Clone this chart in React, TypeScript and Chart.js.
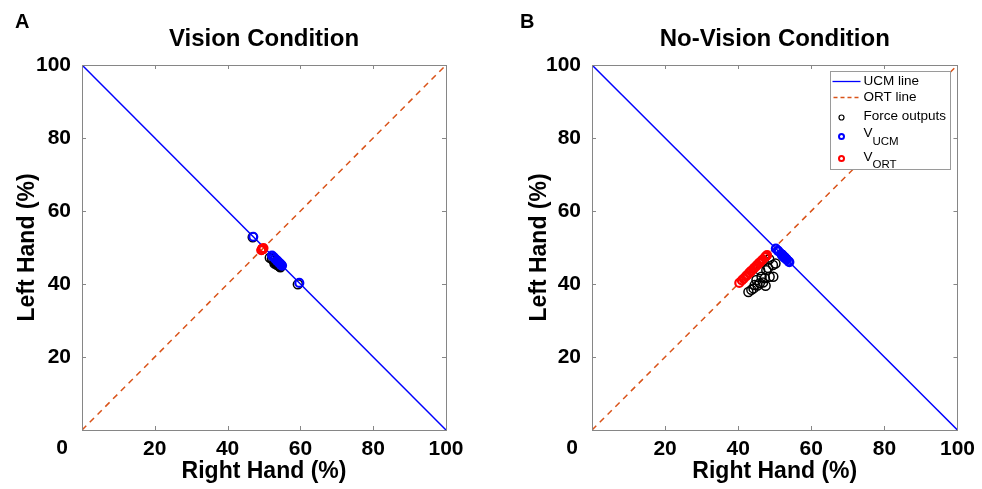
import { useEffect, useRef } from 'react';
import { Chart, registerables } from 'chart.js';
Chart.register(...registerables);

const FONT = '"Liberation Sans", Arial, Helvetica, sans-serif';

const tickValues = [0, 20, 40, 60, 80, 100];
const ucmLineX = [0, 100];
const ucmLineY = [100, 0];
const ortLineX = [0, 100];
const ortLineY = [0, 100];

const legendLabels = ['UCM line', 'ORT line', 'Force outputs', 'V', 'V'];
const legendSubs = ['', '', '', 'UCM', 'ORT'];

// Panel A: Vision Condition
const visionForceX = [52.6, 53.1, 53.4, 53.8, 54.1, 54.5, 52.9, 53.6, 54.3, 59.3, 46.9, 51.6, 52.2];
const visionForceY = [46.4, 45.9, 45.6, 45.3, 45.0, 44.6, 45.6, 45.2, 44.8, 39.9, 52.8, 47.2, 46.9];
const visionUcmX = [53.1, 53.6, 53.9, 54.25, 54.55, 54.95, 53.65, 54.2, 54.75, 59.7, 47.05, 52.2, 52.65];
const visionUcmY = [46.9, 46.4, 46.1, 45.75, 45.45, 45.05, 46.35, 45.8, 45.25, 40.3, 52.95, 47.8, 47.35];
const visionOrtX = [49.5, 49.5, 49.5, 49.55, 49.55, 49.55, 49.25, 49.4, 49.55, 49.6, 49.85, 49.4, 49.55];
const visionOrtY = [49.5, 49.5, 49.5, 49.55, 49.55, 49.55, 49.25, 49.4, 49.55, 49.6, 49.85, 49.4, 49.55];

// Panel B: No-Vision Condition
const noVisionForceX = [49.5, 47.7, 48.6, 46.4, 45.0, 44.5, 45.9, 47.3, 50.2, 48.5, 43.6, 44.2, 45.3, 46.8, 46.0, 48.2, 47.0, 47.5, 49.6, 42.8];
const noVisionForceY = [45.2, 43.8, 42.0, 42.0, 41.1, 39.7, 40.2, 41.6, 45.6, 46.8, 38.4, 38.8, 39.6, 40.4, 43.8, 44.4, 46.4, 39.5, 42.0, 37.8];
const noVisionUcmX = [52.15, 51.95, 53.3, 52.2, 51.95, 52.4, 52.85, 52.85, 52.3, 50.85, 52.6, 52.7, 52.85, 53.2, 51.1, 51.9, 50.3, 54.0, 53.8, 52.5];
const noVisionUcmY = [47.85, 48.05, 46.7, 47.8, 48.05, 47.6, 47.15, 47.15, 47.7, 49.15, 47.4, 47.3, 47.15, 46.8, 48.9, 48.1, 49.7, 46.0, 46.2, 47.5];
const noVisionOrtX = [47.35, 45.75, 45.3, 44.2, 43.05, 42.1, 43.05, 44.45, 47.9, 47.65, 41.0, 41.5, 42.45, 43.6, 44.9, 46.3, 46.7, 43.5, 45.8, 40.3];
const noVisionOrtY = [47.35, 45.75, 45.3, 44.2, 43.05, 42.1, 43.05, 44.45, 47.9, 47.65, 41.0, 41.5, 42.45, 43.6, 44.9, 46.3, 46.7, 43.5, 45.8, 40.3];

const BLUE = '#0000FF';
const ORANGE = '#D95319';
const RED = '#FF0000';
const GRAY = '#868686';

function zip(xs: number[], ys: number[]) {
  return xs.map((x, i) => ({ x, y: ys[i] }));
}

type PanelProps = {
  letter: string;
  title: string;
  forceX: number[]; forceY: number[];
  ucmX: number[]; ucmY: number[];
  ortX: number[]; ortY: number[];
  areaLeft: number;
  padRight: number;
  letterX: number;
  yTitleX: number;
  showLegend: boolean;
  left: number;
};

function drawCircle(ctx: CanvasRenderingContext2D, x: number, y: number, r: number, color: string, w: number) {
  ctx.beginPath();
  ctx.arc(x, y, r, 0, Math.PI * 2);
  ctx.strokeStyle = color;
  ctx.lineWidth = w;
  ctx.stroke();
}

function Panel(p: PanelProps) {
  const ref = useRef<HTMLCanvasElement | null>(null);
  useEffect(() => {
    if (!ref.current) return;
    const deco = {
      id: 'deco',
      afterDatasetsDraw(chart: any) {
        const ctx: CanvasRenderingContext2D = chart.ctx;
        const a = chart.chartArea;
        const xs = chart.scales.x;
        const ys = chart.scales.y;
        ctx.save();
        ctx.strokeStyle = GRAY;
        ctx.lineWidth = 1;
        ctx.strokeRect(Math.round(a.left) + 0.5, Math.round(a.top) + 0.5, Math.round(a.right - a.left), Math.round(a.bottom - a.top));
        const tl = 4;
        ctx.beginPath();
        tickValues.forEach((v) => {
          if (v === 0 || v === 100) return;
          const px = Math.round(xs.getPixelForValue(v)) + 0.5;
          const py = Math.round(ys.getPixelForValue(v)) + 0.5;
          ctx.moveTo(px, a.bottom); ctx.lineTo(px, a.bottom - tl);
          ctx.moveTo(px, a.top); ctx.lineTo(px, a.top + tl);
          ctx.moveTo(a.left, py); ctx.lineTo(a.left + tl, py);
          ctx.moveTo(a.right, py); ctx.lineTo(a.right - tl, py);
        });
        ctx.stroke();

        // texts
        ctx.fillStyle = '#000';
        ctx.font = `bold 24px ${FONT}`;
        ctx.textAlign = 'center';
        ctx.textBaseline = 'alphabetic';
        ctx.fillText(p.title, (a.left + a.right) / 2, 46);
        ctx.font = `bold 20px ${FONT}`;
        ctx.textAlign = 'left';
        ctx.fillText(p.letter, p.letterX, 28);
        ctx.font = `bold 23px ${FONT}`;
        ctx.textAlign = 'center';
        ctx.fillText('Right Hand (%)', (a.left + a.right) / 2, 478);
        ctx.save();
        ctx.translate(p.yTitleX, (a.top + a.bottom) / 2);
        ctx.rotate(-Math.PI / 2);
        ctx.textBaseline = 'middle';
        ctx.fillText('Left Hand (%)', 0, 0);
        ctx.restore();
        ctx.font = `bold 21px ${FONT}`;
        ctx.textBaseline = 'middle';
        ctx.fillText('0', a.left - 20, a.bottom + 18);

        if (p.showLegend) {
          const bx = Math.round(a.right) - 126.5;
          const by = Math.round(a.top) + 6.5;
          const bw = 120;
          const bh = 98;
          ctx.fillStyle = '#fff';
          ctx.fillRect(bx, by, bw, bh);
          ctx.strokeStyle = '#9a9a9a';
          ctx.lineWidth = 1;
          ctx.strokeRect(bx, by, bw, bh);
          const tx = bx + 33;
          const mx = bx + 11;
          // line samples
          ctx.lineWidth = 1.3;
          ctx.strokeStyle = BLUE;
          ctx.beginPath(); ctx.moveTo(bx + 2, by + 10); ctx.lineTo(bx + 30, by + 10); ctx.stroke();
          ctx.strokeStyle = ORANGE;
          ctx.setLineDash([4, 3]);
          ctx.beginPath(); ctx.moveTo(bx + 3, by + 26); ctx.lineTo(bx + 30, by + 26); ctx.stroke();
          ctx.setLineDash([]);
          drawCircle(ctx, mx, by + 46, 2.5, '#000', 1.2);
          drawCircle(ctx, mx, by + 65, 2.5, BLUE, 2);
          drawCircle(ctx, mx, by + 87, 2.5, RED, 2);
          ctx.fillStyle = '#000';
          ctx.textAlign = 'left';
          ctx.font = `13.5px ${FONT}`;
          ctx.textBaseline = 'middle';
          ctx.fillText(legendLabels[0], tx, by + 10);
          ctx.fillText(legendLabels[1], tx, by + 26);
          ctx.fillText(legendLabels[2], tx, by + 45);
          ctx.textBaseline = 'alphabetic';
          ctx.fillText(legendLabels[3], tx, by + 65);
          ctx.fillText(legendLabels[4], tx, by + 89);
          const vw = ctx.measureText('V').width;
          ctx.font = `11.5px ${FONT}`;
          ctx.fillText(legendSubs[3], tx + vw, by + 73);
          ctx.fillText(legendSubs[4], tx + vw, by + 96);
        }
        ctx.restore();
      },
    };

    const chart = new Chart(ref.current, {
      type: 'scatter',
      data: {
        datasets: [
          { label: 'UCM line', data: zip(ucmLineX, ucmLineY), showLine: true, borderColor: BLUE, borderWidth: 1.5, pointRadius: 0, order: 5 },
          { label: 'ORT line', data: zip(ortLineX, ortLineY), showLine: true, borderColor: ORANGE, borderWidth: 1.5, borderDash: [6, 5], pointRadius: 0, order: 4 },
          { label: 'Force outputs', data: zip(p.forceX, p.forceY), pointRadius: 4.5, pointBorderWidth: 1.5, borderColor: '#000', backgroundColor: 'rgba(0,0,0,0)', order: 3 },
          { label: 'V_UCM', data: zip(p.ucmX, p.ucmY), pointRadius: 4, pointBorderWidth: 2.2, borderColor: BLUE, backgroundColor: 'rgba(0,0,0,0)', order: 2 },
          { label: 'V_ORT', data: zip(p.ortX, p.ortY), pointRadius: 4, pointBorderWidth: 2.2, borderColor: RED, backgroundColor: 'rgba(0,0,0,0)', order: 1 },
        ],
      },
      options: {
        animation: false,
        responsive: false,
        events: [],
        layout: { padding: { left: 0, right: p.padRight, top: 65, bottom: 0 } },
        plugins: { legend: { display: false }, tooltip: { enabled: false }, title: { display: false } },
        scales: {
          x: {
            type: 'linear', min: 0, max: 100,
            afterBuildTicks: (s: any) => { s.ticks = tickValues.map((v) => ({ value: v })); },
            afterFit: (s: any) => { s.height = 59; },
            grid: { display: false, drawTicks: false },
            border: { display: false },
            ticks: {
              padding: 7, color: '#000', maxRotation: 0,
              font: { family: FONT, size: 21, weight: 'bold' },
              callback: (v: any) => (v === 0 ? '' : String(v)),
            },
          },
          y: {
            type: 'linear', min: 0, max: 100,
            afterBuildTicks: (s: any) => { s.ticks = tickValues.map((v) => ({ value: v })); },
            afterFit: (s: any) => { s.width = p.areaLeft; },
            grid: { display: false, drawTicks: false },
            border: { display: false },
            ticks: {
              padding: 11, color: '#000',
              font: { family: FONT, size: 21, weight: 'bold' },
              callback: (v: any) => (v === 0 ? '' : String(v)),
            },
          },
        },
      },
      plugins: [deco],
    } as any);
    return () => chart.destroy();
  }, []);
  return (
    <div style={{ position: 'absolute', top: 0, left: p.left, width: 491, height: 489 }}>
      <canvas ref={ref} width={491} height={489} style={{ display: 'block', width: 491, height: 489 }} />
    </div>
  );
}

export default function App() {
  return (
    <div style={{ position: 'absolute', top: 0, left: 0, width: 982, height: 489, background: '#fff' }}>
      <Panel letter="A" title="Vision Condition"
        forceX={visionForceX} forceY={visionForceY}
        ucmX={visionUcmX} ucmY={visionUcmY}
        ortX={visionOrtX} ortY={visionOrtY}
        areaLeft={82} padRight={45} letterX={15} yTitleX={28} showLegend={false} left={0} />
      <Panel letter="B" title="No-Vision Condition"
        forceX={noVisionForceX} forceY={noVisionForceY}
        ucmX={noVisionUcmX} ucmY={noVisionUcmY}
        ortX={noVisionOrtX} ortY={noVisionOrtY}
        areaLeft={101} padRight={24} letterX={29} yTitleX={49} showLegend={true} left={491} />
    </div>
  );
}
